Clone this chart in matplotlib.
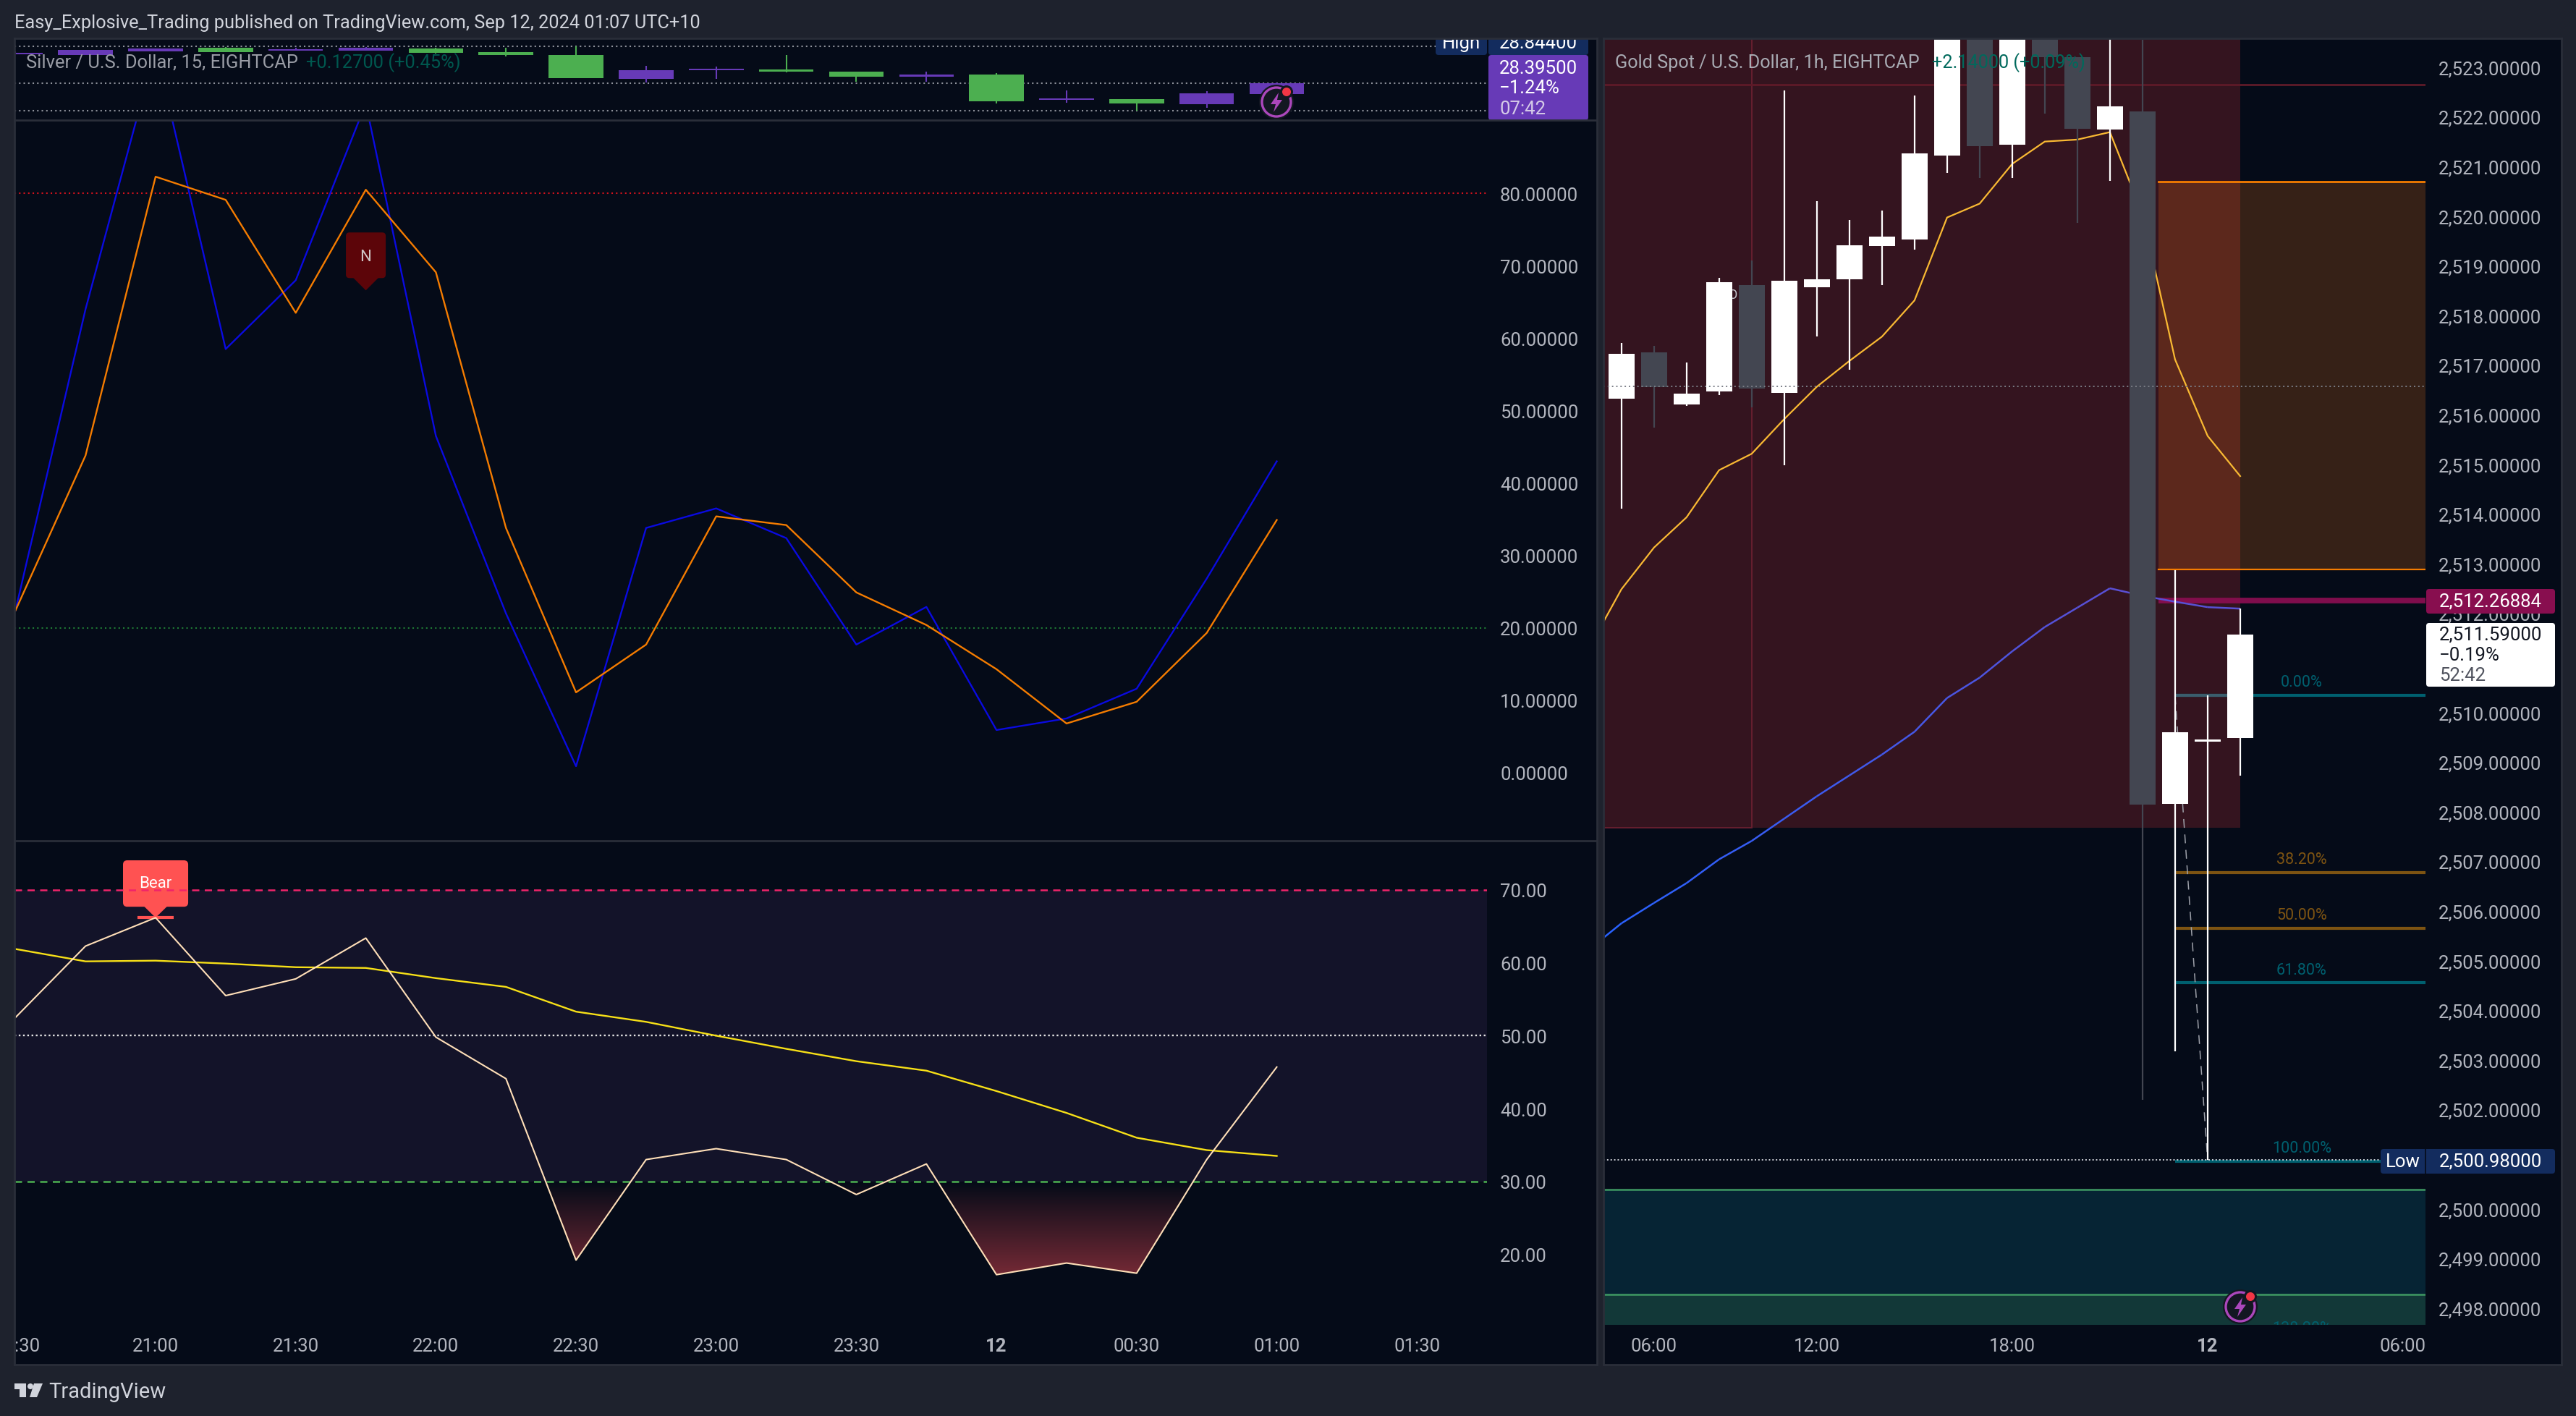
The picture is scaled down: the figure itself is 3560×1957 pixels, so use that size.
import numpy as np
import matplotlib
matplotlib.use("Agg")
import matplotlib.pyplot as plt
from matplotlib.collections import LineCollection
from matplotlib.colors import LinearSegmentedColormap
from matplotlib.patches import Rectangle, FancyBboxPatch, Polygon, Circle
from matplotlib.path import Path
from matplotlib.transforms import Affine2D

W, H = 3560, 1958
plt.rcParams['font.family'] = ['Roboto', 'DejaVu Sans']

# silver, 15 min bars, x = bars after 21:00
silver_x = list(range(-2, 17))
silver_open = [28.783, 28.810, 28.824, 28.790, 28.817, 28.830, 28.783, 28.762, 28.545, 28.620,
               28.633, 28.606, 28.558, 28.579, 28.327, 28.354, 28.307, 28.402, 28.497]
silver_high = [28.796, 28.810, 28.824, 28.837, 28.830, 28.840, 28.830, 28.830, 28.844, 28.660,
               28.654, 28.762, 28.606, 28.606, 28.592, 28.429, 28.348, 28.422, 28.504]
silver_low = [28.769, 28.762, 28.796, 28.790, 28.803, 28.803, 28.776, 28.749, 28.545, 28.504,
              28.538, 28.599, 28.511, 28.511, 28.307, 28.314, 28.239, 28.266, 28.395]
silver_close = [28.769, 28.762, 28.796, 28.830, 28.803, 28.803, 28.824, 28.790, 28.762, 28.538,
                28.620, 28.626, 28.606, 28.558, 28.579, 28.341, 28.348, 28.300, 28.395]
silver_levels = [28.844, 28.497, 28.239]

stoch_k = [22.4, 64, 100, 58.5, 68, 92.4, 46.5, 22, 0.9, 33.8, 36.5, 32.4, 17.7, 22.9, 5.9, 7.5, 11.6, 26.8, 43]
stoch_d = [22.4, 43.8, 82.3, 79.1, 63.5, 80.5, 69.1, 33.8, 11.1, 17.7, 35.4, 34.2, 24.9, 20.4, 14.3, 6.8, 9.8, 19.3, 34.9]
stoch_ticks = [0, 10, 20, 30, 40, 50, 60, 70, 80]

rsi = [52.5, 62.3, 66.2, 55.5, 57.8, 63.4, 49.8, 44.1, 19.2, 33, 34.5, 33, 28.2, 32.4, 17.2, 18.8, 17.4, 33, 45.7]
rsi_ma = [61.9, 60.2, 60.3, 59.9, 59.4, 59.3, 57.9, 56.7, 53.3, 51.9, 50, 48.2, 46.5, 45.2, 42.4, 39.4, 36, 34.3, 33.5]
rsi_ticks = [20, 30, 40, 50, 60, 70]
time_ticks = [-2, 0, 2, 4, 6, 8, 10, 12, 14, 16, 18]
time_labels = ['20:30', '21:00', '21:30', '22:00', '22:30', '23:00', '23:30', '12', '00:30', '01:00', '01:30']

# gold, 1h bars
gold_x = list(range(20))
gold_open = [2516.32, 2517.25, 2516.21, 2516.47, 2518.61, 2516.44, 2518.57, 2518.72, 2519.40, 2519.52,
             2521.22, 2524.40, 2521.44, 2524.60, 2523.20, 2521.74, 2522.10, 2508.16, 2509.41, 2509.48]
gold_high = [2517.44, 2517.39, 2517.05, 2518.76, 2519.10, 2522.53, 2520.30, 2519.92, 2520.11, 2522.43,
             2524.60, 2524.40, 2524.30, 2524.60, 2523.20, 2523.80, 2523.55, 2512.87, 2510.34, 2512.09]
gold_low = [2514.10, 2515.74, 2516.17, 2516.40, 2516.15, 2514.98, 2517.58, 2516.90, 2518.61, 2519.32,
            2520.87, 2520.76, 2520.77, 2522.06, 2519.86, 2520.71, 2502.19, 2503.17, 2500.98, 2508.73]
gold_close = [2517.22, 2516.56, 2516.42, 2518.67, 2516.53, 2518.70, 2518.73, 2519.41, 2519.58, 2521.26,
              2524.20, 2521.41, 2524.30, 2523.20, 2521.76, 2522.21, 2508.14, 2509.60, 2509.45, 2511.57]
ma_x = list(range(-1, 20))
gold_ma_fast = [2511.29, 2512.48, 2513.32, 2513.93, 2514.88, 2515.21, 2515.91, 2516.56, 2517.08, 2517.57, 2518.30,
                2519.97, 2520.25, 2521.05, 2521.50, 2521.54, 2521.69, 2520.04, 2517.11, 2515.57, 2514.76]
gold_ma_slow = [2505.22, 2505.75, 2506.16, 2506.56, 2507.04, 2507.41, 2507.86, 2508.31, 2508.73, 2509.15, 2509.61,
                2510.29, 2510.70, 2511.23, 2511.72, 2512.11, 2512.50, 2512.35, 2512.23, 2512.12, 2512.09]
gold_ticks = list(range(2498, 2524))
gold_time_ticks = [1, 6, 12, 18, 24]
gold_time_labels = ['06:00', '12:00', '18:00', '12', '06:00']
fib_levels = [2510.35, 2506.77, 2505.65, 2504.55, 2500.96]
fib_labels = ['0.00%', '38.20%', '50.00%', '61.80%', '100.00%']
fib_colors = ['#00606f', '#7e5412', '#7e5412', '#00606f', '#00606f']

BG = '#050b18'
CHROME = '#1e222d'
BORDER = '#2a2e39'
TICK = '#b2b5be'


def place(left, top, right, bottom):
    ax = fig.add_axes([left / W, 1 - bottom / H, (right - left) / W, (bottom - top) / H])
    ax.set_facecolor('none')
    for s in ax.spines.values():
        s.set_visible(False)
    return ax


def candles(ax, x, o, h, l, c, up, down, width, lw):
    cols = [up if b >= a else down for a, b in zip(o, c)]
    ax.vlines(x, l, h, colors=cols, lw=lw, zorder=4)
    bottoms = [min(a, b) for a, b in zip(o, c)]
    heights = [abs(a - b) for a, b in zip(o, c)]
    ax.bar(x, heights, bottom=bottoms, width=width, color=cols, zorder=5)


def price_axis(ax, ticks, fmt, pad):
    ax.yaxis.tick_right()
    ax.set_yticks(ticks)
    ax.set_yticklabels([fmt.format(t) for t in ticks])
    ax.tick_params(axis='y', length=0, pad=pad, labelsize=18.5, labelcolor=TICK)


def time_axis(ax, ticks, labels, bold):
    ax.set_xticks(ticks)
    ax.set_xticklabels(labels)
    ax.tick_params(axis='x', length=0, pad=12, labelsize=18.5, labelcolor=TICK)
    for lab, name in zip(ax.get_xticklabels(), labels):
        if name == bold:
            lab.set_fontweight('bold')


fig = plt.figure(figsize=(W / 100, H / 100), dpi=100, facecolor=CHROME)

# panel backgrounds
bg = place(0, 0, W, H)
bg.set_xlim(0, W)
bg.set_ylim(H, 0)
bg.axis('off')
bg.set_zorder(-5)
bg.add_patch(Rectangle((20, 54), 2187, 1833, color=BG, lw=0))
bg.add_patch(Rectangle((2216, 54), 1324, 1833, color=BG, lw=0))

LEFT_X = (-2.014, 19.0)

# --- silver candles
ax1 = place(20, 54, 2055, 167)
ax1.set_xlim(*LEFT_X)
ax1.set_ylim(28.150, 28.919)
ax1.set_xticks([])
ax1.set_yticks([])
for lvl in silver_levels:
    ax1.axhline(lvl, color='#8f929b', lw=1.5, ls=(0, (1, 2)), zorder=2)
candles(ax1, silver_x, silver_open, silver_high, silver_low, silver_close, '#4caf50', '#673ab7', 0.78, 1.5)
ax1.text(0.0079, 0.71, 'Silver / U.S. Dollar, 15, EIGHTCAP', transform=ax1.transAxes, color='#9a9da6',
         fontsize=18.4, va='center', zorder=6)
ax1.text(0.198, 0.71, '+0.12700 (+0.45%)', transform=ax1.transAxes, color='#00584f',
         fontsize=18.4, va='center', zorder=6)

# --- stochastic
ax2 = place(20, 168, 2055, 1163)
ax2.set_xlim(*LEFT_X)
ax2.set_ylim((1069 - 1163) / 10.01, (1069 - 168) / 10.01)
ax2.set_xticks([])
price_axis(ax2, stoch_ticks, '{:.5f}', 13)
ax2.axhline(80, color='#d3121c', lw=1.5, ls=(0, (1, 2)), zorder=1)
ax2.axhline(20, color='#1f7a35', lw=1.5, ls=(0, (1, 2)), zorder=1)
ax2.plot(silver_x, stoch_k, color='#0a0ae0', lw=1.7, zorder=3)
ax2.plot(silver_x, stoch_d, color='#f57c00', lw=1.7, zorder=3)
ax2.add_patch(FancyBboxPatch((3 - 0.284, 68.3), 0.568, 6.3, boxstyle='round,pad=0,rounding_size=0.05',
                             mutation_aspect=96.8 / 10.01, color='#5c0509', lw=0, zorder=4))
ax2.add_patch(Polygon([(3 - 0.186, 68.4), (3 + 0.186, 68.4), (3, 66.6)], color='#5c0509', lw=0, zorder=4))
ax2.text(3, 71.3, 'N', color='#cfc5c5', fontsize=16, ha='center', va='center', zorder=5)

# --- rsi
ax3 = place(20, 1163, 2055, 1832)
ax3.set_xlim(*LEFT_X)
rsi_ylim = (70 - (1832 - 1231) / 10.07, 70 + (1231 - 1163) / 10.07)
price_axis(ax3, rsi_ticks, '{:.2f}', 13)
time_axis(ax3, time_ticks, time_labels, '12')
# first label is half hidden by the frame, only ":30" shows
first = ax3.get_xticklabels()[0]
first.set_transform(first.get_transform() + Affine2D().translate(3, 0))
ax3.axhspan(30, 70, color='#131329', lw=0, zorder=0)
rsi_arr = np.array(rsi)
low_fill = ax3.fill_between(silver_x, rsi_arr, 30, where=rsi_arr < 30, interpolate=True, color='none', lw=0)
clip = Path.make_compound_path(*low_fill.get_paths())
cmap = LinearSegmentedColormap.from_list('under', [BG, '#772a36'])
grad = ax3.imshow(np.linspace(1, 0, 80).reshape(-1, 1), extent=[-2, 19, 16.8, 30], origin='lower', aspect='auto',
                  cmap=cmap, interpolation='bilinear', zorder=1)
grad.set_clip_path(clip, transform=ax3.transData)
ax3.set_xlim(*LEFT_X)
ax3.set_ylim(*rsi_ylim)
# bear label
ax3.add_patch(FancyBboxPatch((-0.465, 67.7), 0.93, 6.37, boxstyle='round,pad=0,rounding_size=0.06',
                             mutation_aspect=96.8 / 10.07, color='#ff5252', lw=0, zorder=2))
ax3.add_patch(Polygon([(-0.17, 67.8), (0.17, 67.8), (0, 66.2)], color='#ff5252', lw=0, zorder=2))
ax3.plot([-0.26, 0.26], [66.2, 66.2], color='#ff5252', lw=3, solid_capstyle='butt', zorder=2)
ax3.text(0, 70.9, 'Bear', color='white', fontsize=16, ha='center', va='center', zorder=2.5)
ax3.axhline(70, color='#f0246a', lw=1.8, ls=(0, (4, 3)), zorder=3)
ax3.axhline(50, color='#e8e8e8', lw=1.7, ls=(0, (1, 1.5)), zorder=3)
ax3.axhline(30, color='#4caf50', lw=1.8, ls=(0, (4, 3)), zorder=3)
ax3.plot(silver_x, rsi_ma, color='#f7e017', lw=1.7, zorder=4)
ax3.plot(silver_x, rsi, color='#ffdfb8', lw=1.5, zorder=5)

# --- gold
ax4 = place(2216, 54, 3352, 1832)
GOLD_X = (-0.55, 24.69)
ax4.set_xlim(*GOLD_X)
ax4.set_ylim(2523 - (1832 - 93.75) / 68.6, 2523 + (93.75 - 54) / 68.6)
price_axis(ax4, gold_ticks, '{:,.5f}', 13)
time_axis(ax4, gold_time_ticks, gold_time_labels, '12')
ymin, ymax = ax4.get_ylim()

# zones
ax4.add_patch(Rectangle((GOLD_X[0], 2507.67), 19 - GOLD_X[0], ymax - 2507.67, color='#34141f', lw=0, zorder=0))
ax4.add_patch(Rectangle((GOLD_X[0], 2507.67), 4 - GOLD_X[0], ymax - 2507.67, fc='none', ec='#6a2030', lw=1.3, zorder=1))
ax4.axhline(2522.64, color='#5e1a28', lw=2, zorder=1)
ax4.add_patch(Rectangle((16.5, 2512.88), GOLD_X[1] - 16.5, 2520.69 - 2512.88, color='#ff7a14', alpha=0.2, lw=0, zorder=1))
ax4.plot([16.5, GOLD_X[1]], [2520.69, 2520.69], color='#f57c00', lw=2, zorder=1.5)
ax4.plot([16.5, GOLD_X[1]], [2512.88, 2512.88], color='#f57c00', lw=1.6, zorder=1.5)
ax4.add_patch(Rectangle((GOLD_X[0], ymin), GOLD_X[1] - GOLD_X[0], 2500.38 - ymin, color='#062434', lw=0, zorder=0))
ax4.add_patch(Rectangle((GOLD_X[0], ymin), GOLD_X[1] - GOLD_X[0], 2498.27 - ymin, color='#123838', lw=0, zorder=0.5))
ax4.axhline(2500.38, color='#3f9a63', lw=1.8, zorder=1.5)
ax4.axhline(2498.27, color='#3f9a63', lw=1.8, zorder=1.5)
ax4.plot([16.5, GOLD_X[1]], [2512.25, 2512.25], color='#880e4f', lw=5.6, alpha=0.95, solid_capstyle='butt', zorder=1.6)

# fib levels
for lvl, lab, col in zip(fib_levels, fib_labels, fib_colors):
    ax4.plot([17, GOLD_X[1]], [lvl, lvl], color=col, lw=3, solid_capstyle='butt', zorder=1.8)
    ax4.text(20.89, lvl + 0.265, lab, color=col, fontsize=15.5, ha='center', va='center', zorder=2)
ax4.plot([17, 19], [fib_levels[0], fib_levels[0]], color='#3a5d6c', lw=3, solid_capstyle='butt', zorder=1.85)
ax4.text(20.89, 2497.6, '138.20%', color='#00606f', fontsize=15.5, ha='center', va='center', zorder=2, clip_on=True)
ax4.plot([17, 18], [2510.34, 2500.98], color='#9ea1aa', lw=1.1, ls=(0, (8, 6)), zorder=3.5)

ax4.axhline(2516.57, color='#7b7e87', lw=1.4, ls=(0, (1, 2)), zorder=6)
ax4.axhline(2500.98, color='#c9cbd2', lw=1.4, ls=(0, (1, 1.5)), zorder=6)
ax4.text(3.43, 2518.42, 'O', color='#c9cbd2', fontsize=13, ha='center', va='center', zorder=2)

ax4.plot(ma_x, gold_ma_fast, color='#f9b933', lw=1.6, zorder=3)
pts = np.column_stack([ma_x, gold_ma_slow])
segs = np.stack([pts[:-1], pts[1:]], axis=1)
slow = LineCollection(segs, cmap=LinearSegmentedColormap.from_list('slow', ['#2962ff', '#5a4fd2']), lw=1.8, zorder=3)
slow.set_array(np.array(gold_ma_slow[:-1]))
ax4.add_collection(slow)
candles(ax4, gold_x, gold_open, gold_high, gold_low, gold_close, '#ffffff', '#434651', 0.79, 1.6)
ax4.set_xlim(*GOLD_X)
ax4.set_ylim(ymin, ymax)

ax4.text(0.014, 0.9815, 'Gold Spot / U.S. Dollar, 1h, EIGHTCAP', transform=ax4.transAxes, color='#a9acb4',
         fontsize=18.2, va='center', zorder=7)
ax4.text(0.40, 0.9815, '+2.14000 (+0.09%)', transform=ax4.transAxes, color='#00695c',
         fontsize=18.2, va='center', zorder=7)

# overlay with labels and frame, in picture pixels
top = place(0, 0, W, H)
top.set_xlim(0, W)
top.set_ylim(H, 0)
top.axis('off')
top.set_zorder(10)


def tag(x0, y0, x1, y1, color, z=2):
    top.add_patch(FancyBboxPatch((x0, y0), x1 - x0, y1 - y0, boxstyle='round,pad=0,rounding_size=4', color=color, lw=0, zorder=z))


def label(x, y, s, color='white', size=18.5, ha='left', weight='normal', z=3):
    top.text(x, y, s, color=color, fontsize=size, ha=ha, va='center', fontweight=weight, zorder=z)


# silver price labels
tag(1984, 40, 2055, 77, '#132c5e')
tag(2057, 40, 2195, 77, '#132c5e')
label(2019, 60, 'High', ha='center')
label(2072, 60, '28.84400')
tag(2057, 77, 2195, 167, '#673ab7')
label(2072, 95, '28.39500')
label(2072, 122, '\u22121.24%')
label(2072, 151, '07:42', color='#d5cbe8')

# gold price labels
tag(3353, 815, 3531, 849, '#880e4f')
label(3371, 832, '2,512.26884')
tag(3353, 862, 3531, 950, '#ffffff')
label(3371, 878, '2,511.59000', color='#131722')
label(3371, 906, '\u22120.19%', color='#131722')
label(3371, 934, '52:42', color='#50535e')
tag(3290, 1589, 3531, 1623, '#132c5e')
top.plot([3352, 3352], [1589, 1623], color=BG, lw=1.2, zorder=3)
label(3321, 1606, 'Low', ha='center')
label(3371, 1606, '2,500.98000')


def bolt_icon(cx, cy):
    top.add_patch(Circle((cx, cy), 24, color='#131722', lw=0, zorder=4))
    top.add_patch(Circle((cx, cy), 20, fc='#131722', ec='#ab47bc', lw=2.4, zorder=4))
    top.add_patch(Polygon([(cx + 3, cy - 13), (cx - 8, cy + 3), (cx - 1, cy + 3), (cx - 4, cy + 14),
                           (cx + 8, cy - 3), (cx + 1, cy - 3)], color='#ab47bc', lw=0, zorder=5))
    top.add_patch(Circle((cx + 14, cy - 14), 9, color='#131722', lw=0, zorder=5))
    top.add_patch(Circle((cx + 14, cy - 14), 6, color='#f23645', lw=0, zorder=6))


bolt_icon(1764, 142)
bolt_icon(3096, 1807)

# frame on top of everything
top.add_patch(Rectangle((0, 0), W, 54, color=CHROME, lw=0, zorder=7))
top.add_patch(Rectangle((0, 1887), W, H - 1887, color=CHROME, lw=0, zorder=7))
top.add_patch(Rectangle((0, 54), 20, 1833, color=CHROME, lw=0, zorder=7))
top.add_patch(Rectangle((2207, 54), 9, 1833, color=CHROME, lw=0, zorder=7))
top.add_patch(Rectangle((3540, 54), 20, 1833, color=CHROME, lw=0, zorder=7))
for x0, y0, x1, y1 in [(20, 54, 2207, 54), (2216, 54, 3540, 54), (20, 167, 2207, 167), (20, 1163, 2207, 1163),
                       (20, 1887, 2207, 1887), (2216, 1887, 3540, 1887), (20, 54, 20, 1887), (2207, 54, 2207, 1887),
                       (2216, 54, 2216, 1887), (3540, 54, 3540, 1887)]:
    top.plot([x0, x1], [y0, y1], color=BORDER, lw=2, zorder=8)

label(20, 32, 'Easy_Explosive_Trading published on TradingView.com, Sep 12, 2024 01:07 UTC+10',
      color='#d1d4dc', size=18.3, z=9)

# logo and name in the footer
top.add_patch(Polygon([(20, 1913), (36, 1913), (36, 1932), (27, 1932), (27, 1921), (20, 1921)], color='#d1d4dc', lw=0, zorder=9))
top.add_patch(Circle((42, 1917), 4, color='#d1d4dc', lw=0, zorder=9))
top.add_patch(Polygon([(47, 1913), (59, 1913), (51, 1932), (41, 1932)], color='#d1d4dc', lw=0, zorder=9))
label(67, 1924, 'TradingView', color='#d1d4dc', size=21, z=9)

fig.savefig('out.png', dpi=100, facecolor=CHROME)
